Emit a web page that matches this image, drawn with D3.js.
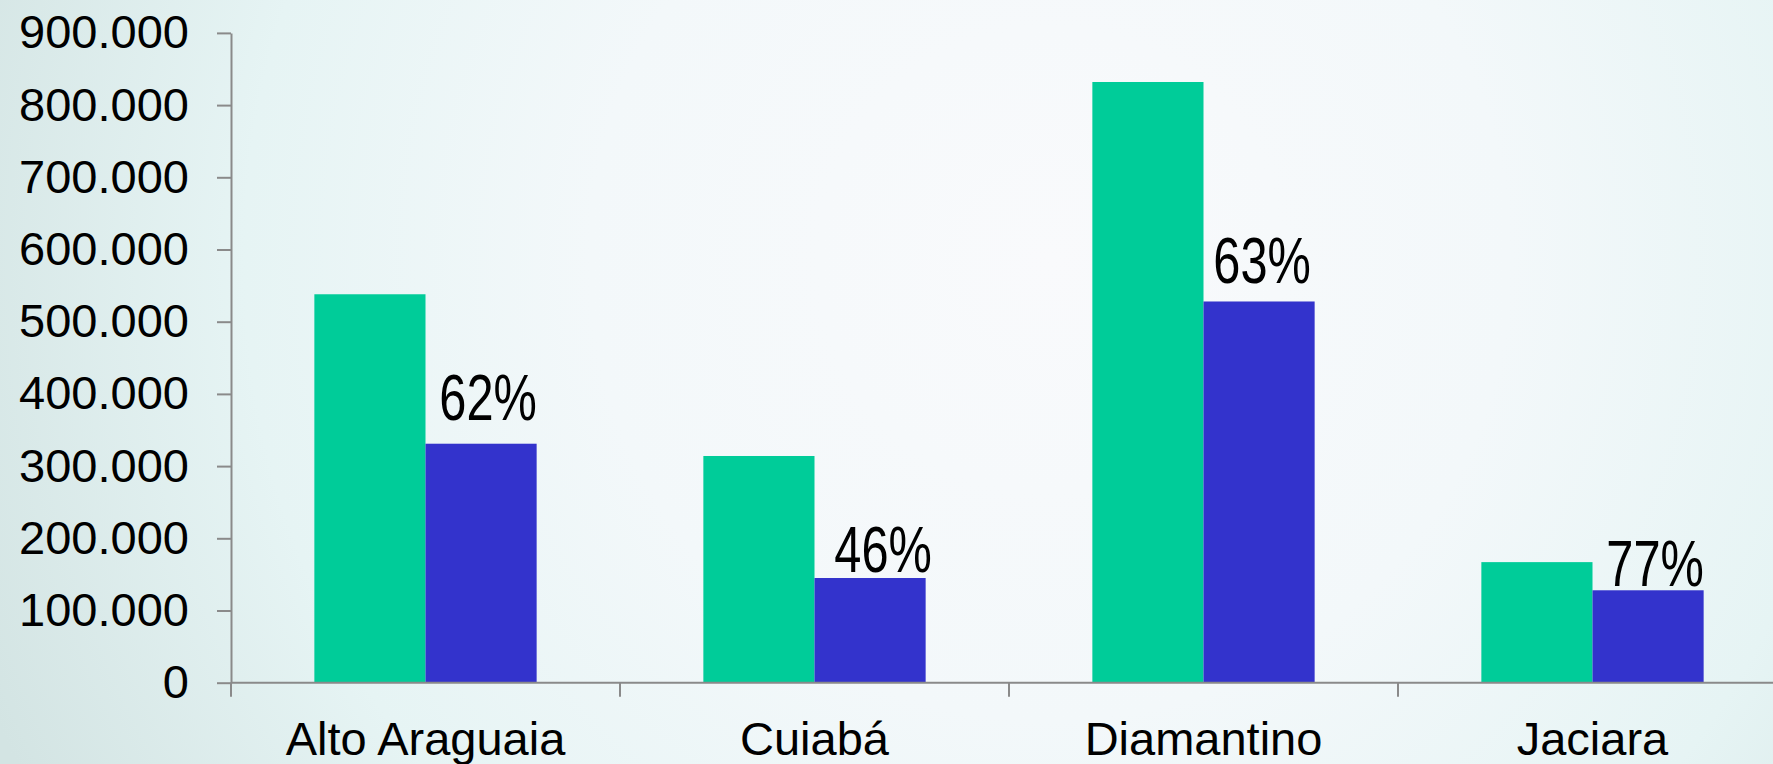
<!DOCTYPE html>
<html>
<head>
<meta charset="utf-8">
<script src="https://cdn.jsdelivr.net/npm/d3@7/dist/d3.min.js"></script>
<style>
  html, body { margin: 0; padding: 0; overflow: hidden; }
  body { width: 1773px; height: 764px; }
  svg { display: block; font-family: "Liberation Sans", Arial, sans-serif; }
</style>
</head>
<body>
<svg id="chart" width="1773" height="764"></svg>
<script>
// ---- data ----
const categories = ["Alto Araguaia", "Cuiabá", "Diamantino", "Jaciara"];
const seriesNames = ["total", "parcial"];
const totalValues = [538000, 314000, 832000, 167000];
const partialValues = [331000, 145000, 528000, 128000];
const percentLabels = ["62%", "46%", "63%", "77%"];
const yTicks = [0, 100000, 200000, 300000, 400000, 500000, 600000, 700000, 800000, 900000];

// ---- layout ----
const W = 1773, H = 764;
const plotLeft = 231, plotRight = 1787, plotTop = 32.9, plotBottom = 682.7;
const colors = { total: "#00CC99", parcial: "#3333CC" };
const labelDy = [-24, -6, -18, -4];
const labelDx = [7, 13, 3, 7];

const svg = d3.select("#chart");

// background gradient
const defs = svg.append("defs");
const grad = defs.append("radialGradient")
  .attr("id", "bg").attr("gradientUnits", "userSpaceOnUse")
  .attr("cx", 1050).attr("cy", 260).attr("r", 1150);
grad.append("stop").attr("offset", "0").attr("stop-color", "#f9fafc");
grad.append("stop").attr("offset", "0.4").attr("stop-color", "#f3f8fa");
grad.append("stop").attr("offset", "0.7").attr("stop-color", "#e6f4f4");
grad.append("stop").attr("offset", "1").attr("stop-color", "#d3e4e3");
svg.append("rect").attr("width", W).attr("height", H).attr("fill", "url(#bg)");

const x0 = d3.scaleBand().domain(categories).range([plotLeft, plotRight]).paddingInner(0).paddingOuter(0);
const x1 = d3.scaleBand().domain(seriesNames).range([0, x0.bandwidth()]).paddingInner(0).paddingOuter(0.75);
const y = d3.scaleLinear().domain([0, 900000]).range([plotBottom, plotTop]);

const locale = d3.formatLocale({ decimal: ",", thousands: ".", grouping: [3], currency: ["", ""] });
const fmt = locale.format(",d");

// bars
const rows = categories.map((c, i) => ({ cat: c, total: totalValues[i], parcial: partialValues[i], label: percentLabels[i], i }));
const g = svg.append("g");
rows.forEach(r => {
  seriesNames.forEach(s => {
    g.append("rect")
      .attr("x", x0(r.cat) + x1(s))
      .attr("y", y(r[s]))
      .attr("width", x1.bandwidth())
      .attr("height", y(0) - y(r[s]))
      .attr("fill", colors[s]);
  });
});

// percent labels (condensed)
rows.forEach(r => {
  const cx = x0(r.cat) + x1("parcial") + x1.bandwidth() / 2 + labelDx[r.i];
  const cy = y(r.parcial) + labelDy[r.i];
  svg.append("text")
    .attr("transform", `translate(${cx},${cy}) scale(0.75,1)`)
    .attr("text-anchor", "middle")
    .attr("font-size", 65)
    .attr("fill", "#000")
    .text(r.label);
});

// y axis
const yAxis = d3.axisLeft(y).tickValues(yTicks).tickFormat(fmt).tickSizeInner(14).tickSizeOuter(0).tickPadding(28);
const ya = svg.append("g").attr("transform", `translate(${plotLeft},0)`).call(yAxis);
ya.select(".domain").attr("stroke", "#8a8a8a").attr("stroke-width", 2);
ya.selectAll(".tick line").attr("stroke", "#8a8a8a").attr("stroke-width", 2);
ya.selectAll(".tick text").attr("font-size", 47).attr("fill", "#000")
  .attr("font-family", "'Liberation Sans', Arial, sans-serif");

// x axis
const xa = svg.append("g").attr("transform", `translate(0,${plotBottom})`);
xa.append("line").attr("x1", plotLeft).attr("x2", plotRight).attr("y1", 0).attr("y2", 0)
  .attr("stroke", "#8a8a8a").attr("stroke-width", 2);
const boundaries = categories.map(c => x0(c));
xa.selectAll("line.tk").data(boundaries).enter().append("line").attr("class", "tk")
  .attr("x1", d => d).attr("x2", d => d).attr("y1", 0).attr("y2", 14)
  .attr("stroke", "#8a8a8a").attr("stroke-width", 2);
xa.selectAll("text").data(categories).enter().append("text")
  .attr("x", d => x0(d) + x0.bandwidth() / 2)
  .attr("y", 72)
  .attr("text-anchor", "middle")
  .attr("font-size", 47)
  .attr("fill", "#000")
  .text(d => d);
</script>
</body>
</html>
